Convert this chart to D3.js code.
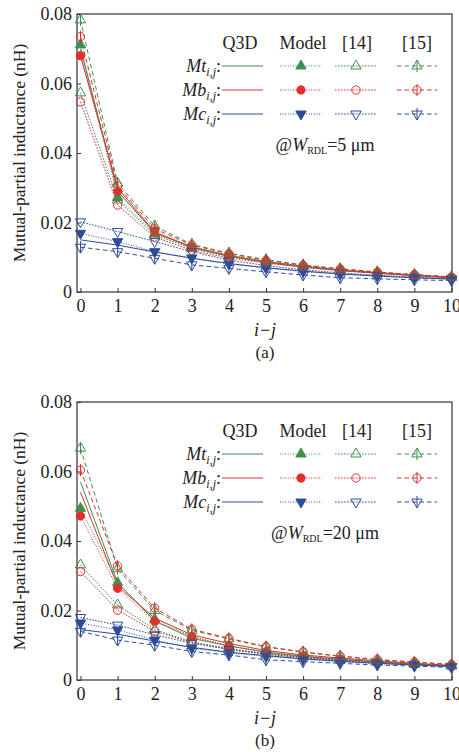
<!DOCTYPE html>
<html>
<head>
<meta charset="utf-8">
<script src="https://cdn.jsdelivr.net/npm/d3@7"></script>
<style>
  body { margin: 0; background: #fff; }
  svg { display: block; }
  text { font-family: "Liberation Serif", Tinos, "Times New Roman", Times, "DejaVu Serif", serif; fill: #222; }
</style>
</head>
<body>
<svg id="fig" width="459" height="752"></svg>
<script>
const steps = [0, 1, 2, 3, 4, 5, 6, 7, 8, 9, 10];
const yTicks = [0, 0.02, 0.04, 0.06, 0.08];
const methods = ["Q3D", "Model", "[14]", "[15]"];
const kinds = ["Mt", "Mb", "Mc"];

// (a) W_RDL = 5 um
const aQ3dMt   = [0.0700, 0.0290, 0.0170, 0.0130, 0.0105, 0.0087, 0.0074, 0.0063, 0.0055, 0.0048, 0.0042];
const aQ3dMb   = [0.0680, 0.0300, 0.0172, 0.0128, 0.0103, 0.0085, 0.0072, 0.0062, 0.0054, 0.0047, 0.0041];
const aQ3dMc   = [0.0150, 0.0135, 0.0115, 0.0097, 0.0082, 0.0070, 0.0060, 0.0052, 0.0046, 0.0041, 0.0037];
const aModelMt = [0.0711, 0.0272, 0.0168, 0.0128, 0.0105, 0.0088, 0.0075, 0.0064, 0.0056, 0.0049, 0.0043];
const aModelMb = [0.0680, 0.0289, 0.0176, 0.0130, 0.0106, 0.0088, 0.0075, 0.0064, 0.0056, 0.0049, 0.0043];
const aModelMc = [0.0169, 0.0145, 0.0116, 0.0098, 0.0081, 0.0069, 0.0059, 0.0051, 0.0046, 0.0041, 0.0037];
const a14Mt    = [0.0573, 0.0265, 0.0164, 0.0125, 0.0102, 0.0086, 0.0073, 0.0063, 0.0055, 0.0048, 0.0042];
const a14Mb    = [0.0547, 0.0250, 0.0158, 0.0120, 0.0098, 0.0083, 0.0071, 0.0061, 0.0054, 0.0047, 0.0041];
const a14Mc    = [0.0202, 0.0174, 0.0145, 0.0116, 0.0092, 0.0076, 0.0064, 0.0055, 0.0048, 0.0043, 0.0038];
const a15Mt    = [0.0783, 0.0313, 0.0190, 0.0137, 0.0112, 0.0093, 0.0078, 0.0067, 0.0058, 0.0050, 0.0044];
const a15Mb    = [0.0735, 0.0305, 0.0182, 0.0135, 0.0110, 0.0091, 0.0077, 0.0066, 0.0057, 0.0050, 0.0043];
const a15Mc    = [0.0129, 0.0116, 0.0097, 0.0078, 0.0068, 0.0058, 0.0049, 0.0041, 0.0038, 0.0035, 0.0033];

// (b) W_RDL = 20 um
const bQ3dMt   = [0.0570, 0.0280, 0.0170, 0.0120, 0.0098, 0.0080, 0.0068, 0.0060, 0.0052, 0.0046, 0.0040];
const bQ3dMb   = [0.0540, 0.0270, 0.0178, 0.0130, 0.0105, 0.0085, 0.0072, 0.0063, 0.0055, 0.0048, 0.0042];
const bQ3dMc   = [0.0145, 0.0132, 0.0112, 0.0094, 0.0080, 0.0070, 0.0061, 0.0054, 0.0048, 0.0043, 0.0039];
const bModelMt = [0.0494, 0.0280, 0.0175, 0.0125, 0.0098, 0.0080, 0.0068, 0.0059, 0.0052, 0.0046, 0.0041];
const bModelMb = [0.0472, 0.0264, 0.0168, 0.0125, 0.0098, 0.0081, 0.0069, 0.0060, 0.0053, 0.0047, 0.0042];
const bModelMc = [0.0164, 0.0144, 0.0115, 0.0092, 0.0078, 0.0068, 0.0060, 0.0053, 0.0047, 0.0043, 0.0039];
const b14Mt    = [0.0331, 0.0216, 0.0145, 0.0110, 0.0090, 0.0077, 0.0066, 0.0058, 0.0051, 0.0045, 0.0040];
const b14Mb    = [0.0312, 0.0201, 0.0140, 0.0108, 0.0088, 0.0075, 0.0065, 0.0057, 0.0050, 0.0045, 0.0040];
const b14Mc    = [0.0180, 0.0158, 0.0130, 0.0106, 0.0088, 0.0074, 0.0064, 0.0056, 0.0049, 0.0044, 0.0039];
const b15Mt    = [0.0667, 0.0320, 0.0200, 0.0143, 0.0118, 0.0095, 0.0080, 0.0068, 0.0058, 0.0051, 0.0044];
const b15Mb    = [0.0604, 0.0328, 0.0207, 0.0146, 0.0120, 0.0096, 0.0081, 0.0069, 0.0059, 0.0052, 0.0045];
const b15Mc    = [0.0140, 0.0115, 0.0100, 0.0082, 0.0072, 0.0058, 0.0053, 0.0048, 0.0043, 0.0040, 0.0036];

const colors = { Mt: "#3f8f4f", Mb: "#e0302c", Mc: "#2c4c9a" };
const dashes = { "Q3D": null, "Model": "1,1.6", "[14]": "1.6,1.4", "[15]": "4.5,3" };
const serif = "'Liberation Serif', Tinos, 'Times New Roman', Times, 'DejaVu Serif', serif";

const panels = [
    { top: 14, bottom: 292, tag: "(a)", w: "5",
      series: {
          Q3D: { Mt: aQ3dMt, Mb: aQ3dMb, Mc: aQ3dMc },
          Model: { Mt: aModelMt, Mb: aModelMb, Mc: aModelMc },
          "[14]": { Mt: a14Mt, Mb: a14Mb, Mc: a14Mc },
          "[15]": { Mt: a15Mt, Mb: a15Mb, Mc: a15Mc } } },
    { top: 402, bottom: 680, tag: "(b)", w: "20",
      series: {
          Q3D: { Mt: bQ3dMt, Mb: bQ3dMb, Mc: bQ3dMc },
          Model: { Mt: bModelMt, Mb: bModelMb, Mc: bModelMc },
          "[14]": { Mt: b14Mt, Mb: b14Mb, Mc: b14Mc },
          "[15]": { Mt: b15Mt, Mb: b15Mb, Mc: b15Mc } } }
];

const svg = d3.select("#fig");
const left = 77, right = 452;

function drawMarker(g, kind, method, cx, cy) {
    if (method === "Q3D") return;
    const color = colors[kind];
    let sym;
    if (kind === "Mb") sym = d3.symbol().type(d3.symbolCircle).size(54);
    else sym = d3.symbol().type(d3.symbolTriangle).size(46);
    const rot = kind === "Mc" ? 180 : 0;
    g.append("path")
        .attr("d", sym())
        .attr("transform", `translate(${cx},${cy}) rotate(${rot})`)
        .attr("fill", method === "Model" ? color : "none")
        .attr("stroke", color)
        .attr("stroke-width", 1);
    if (method === "[15]") {
        g.append("line")
            .attr("x1", cx).attr("x2", cx)
            .attr("y1", cy - 6).attr("y2", cy + 6)
            .attr("stroke", color).attr("stroke-width", 1);
    }
}

function drawPanel(p) {
    const g = svg.append("g").attr("font-family", serif);

    const x = d3.scaleLinear().domain([0, 10]).range([80.5, 451.5]);
    const y = d3.scaleLinear().domain([0, 0.08]).range([p.bottom, p.top]);

    // frame
    g.append("rect")
        .attr("x", left).attr("y", p.top)
        .attr("width", right - left).attr("height", p.bottom - p.top)
        .attr("fill", "none").attr("stroke", "#333").attr("stroke-width", 1.2);

    // axes, ticks inward
    const xAxis = g.append("g")
        .attr("transform", `translate(0,${p.bottom})`)
        .call(d3.axisBottom(x).tickValues(steps).tickSizeInner(-4).tickSizeOuter(0).tickPadding(7));
    const yAxis = g.append("g")
        .attr("transform", `translate(${left},0)`)
        .call(d3.axisLeft(y).tickValues(yTicks).tickSizeInner(-4).tickSizeOuter(0).tickPadding(5)
            .tickFormat(d => d === 0 ? "0" : d3.format(".2f")(d)));
    [xAxis, yAxis].forEach(a => {
        a.attr("font-family", serif);
        a.select(".domain").remove();
        a.selectAll("line").attr("stroke", "#333");
        a.selectAll("text").attr("font-size", 18).attr("fill", "#222");
    });

    // series lines
    const line = d3.line().x((d, i) => x(steps[i])).y(d => y(d));
    methods.forEach(m => {
        kinds.forEach(k => {
            g.append("path")
                .datum(p.series[m][k])
                .attr("fill", "none")
                .attr("stroke", colors[k])
                .attr("stroke-width", 1)
                .attr("stroke-dasharray", dashes[m])
                .attr("d", line);
        });
    });
    methods.forEach(m => {
        kinds.forEach(k => {
            p.series[m][k].forEach((v, i) => drawMarker(g, k, m, x(steps[i]), y(v)));
        });
    });

    // legend
    const hdrY = p.top + 29;
    const rowY = [p.top + 52, p.top + 76, p.top + 100];
    const cols = { "Q3D": [222, 263], "Model": [280, 322], "[14]": [335, 377], "[15]": [397, 437] };
    const hdrX = { "Q3D": 240, "Model": 303, "[14]": 357, "[15]": 417 };
    methods.forEach(m => {
        g.append("text")
            .attr("x", hdrX[m]).attr("y", hdrY).attr("dy", "0.35em")
            .attr("text-anchor", "middle").attr("font-size", 18)
            .text(m);
    });
    kinds.forEach((k, r) => {
        const t = g.append("text")
            .attr("x", 221).attr("y", rowY[r]).attr("dy", "0.35em")
            .attr("text-anchor", "end").attr("font-size", 18);
        t.append("tspan").attr("font-style", "italic").text(k);
        t.append("tspan").attr("font-style", "italic").attr("font-size", 12).attr("dy", 4).text("i,j");
        t.append("tspan").attr("dy", -4).text(":");
        methods.forEach(m => {
            const [x0, x1] = cols[m];
            g.append("line")
                .attr("x1", x0).attr("x2", x1)
                .attr("y1", rowY[r]).attr("y2", rowY[r])
                .attr("stroke", colors[k]).attr("stroke-width", 1)
                .attr("stroke-dasharray", dashes[m]);
            drawMarker(g, k, m, (x0 + x1) / 2, rowY[r]);
        });
    });

    // width note
    const note = g.append("text")
        .attr("x", 325).attr("y", p.top + 131).attr("dy", "0.35em")
        .attr("text-anchor", "middle").attr("font-size", 18);
    note.append("tspan").text("@");
    note.append("tspan").attr("font-style", "italic").text("W");
    note.append("tspan").attr("font-size", 10).attr("dy", 3).text("RDL");
    note.append("tspan").attr("dy", -3).text("=" + p.w + " μm");

    // axis titles
    g.append("text")
        .attr("transform", `translate(19,${(p.top + p.bottom) / 2}) rotate(-90)`)
        .attr("dy", "0.35em")
        .attr("text-anchor", "middle").attr("font-size", 17.5)
        .text("Mutual-partial inductance (nH)");

    g.append("text")
        .attr("x", 265).attr("y", p.bottom + 38).attr("dy", "0.35em")
        .attr("text-anchor", "middle").attr("font-size", 18).attr("font-style", "italic")
        .text("i\u2212j");

    g.append("text")
        .attr("x", 265).attr("y", p.bottom + 60).attr("dy", "0.35em")
        .attr("text-anchor", "middle").attr("font-size", 17)
        .text(p.tag);
}

panels.forEach(drawPanel);
</script>
</body>
</html>
